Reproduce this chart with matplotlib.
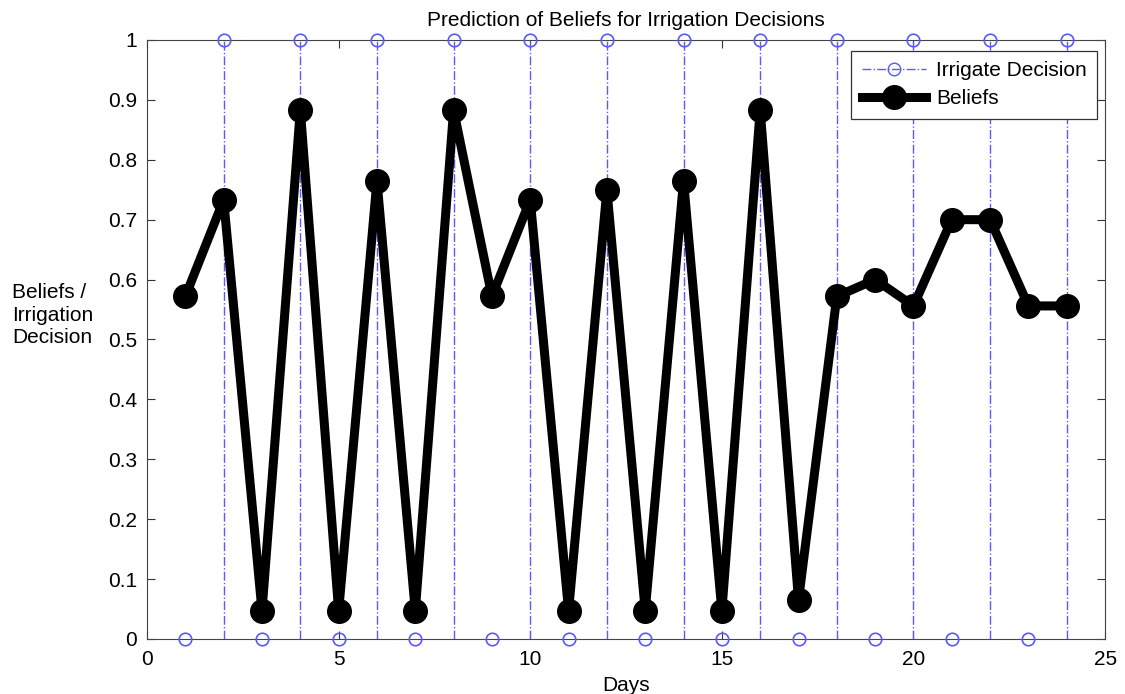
import numpy as np
import matplotlib
matplotlib.use('Agg')
import matplotlib.pyplot as plt
from matplotlib.lines import Line2D

matplotlib.rcParams['font.family'] = ['Liberation Sans', 'DejaVu Sans']

# data
days = np.arange(1, 25)
beliefs = [0.572, 0.733, 0.047, 0.883, 0.047, 0.765, 0.047, 0.883, 0.572, 0.733,
           0.047, 0.750, 0.047, 0.765, 0.047, 0.883, 0.065, 0.572, 0.600, 0.556,
           0.700, 0.700, 0.556, 0.556]
decision = [0, 1] * 12
xticks = [0, 5, 10, 15, 20, 25]
yticks = np.round(np.arange(0, 1.01, 0.1), 1)

BLUE = '#5a5aff'
FS = 15

fig = plt.figure(figsize=(11.25, 6.94), dpi=100)
ax = fig.add_axes([0.1307, 0.0793, 0.8516, 0.8631])

dec = np.asarray(decision)
ax.vlines(days[dec == 1], 0, 1, colors=BLUE, linestyles='-.', linewidth=1)
ax.plot(days, dec, linestyle='none', marker='o', markersize=9,
        markerfacecolor='none', markeredgecolor=BLUE, markeredgewidth=1.2,
        clip_on=False, zorder=5)
ax.plot(days, beliefs, color='black', linewidth=6.5, marker='o', markersize=17,
        markerfacecolor='black', zorder=4)

ax.set_xlim(0, 25)
ax.set_ylim(0, 1)
ax.set_xticks(xticks)
ax.set_yticks(yticks)
ax.set_yticklabels(['0'] + ['%g' % v for v in yticks[1:-1]] + ['1'])
ax.tick_params(direction='in', top=True, right=True, labelsize=FS, length=6,
               color='#333333', pad=7)
ax.tick_params(axis='x', pad=8)
for s in ax.spines.values():
    s.set_color('#444444')

ax.set_title('Prediction of Beliefs for Irrigation Decisions', fontsize=FS, pad=10)
ax.set_xlabel('Days', fontsize=FS, labelpad=5)
fig.text(0.0107, 0.546, 'Beliefs /\nIrrigation\nDecision', fontsize=FS,
         ha='left', va='center', linespacing=1.25)

handles = [Line2D([], [], color=BLUE, linestyle='-.', linewidth=1, marker='o',
                  markersize=9, markerfacecolor='none', markeredgecolor=BLUE),
           Line2D([], [], color='black', linewidth=6.5, marker='o', markersize=17)]
leg = ax.legend(handles, ['Irrigate Decision', 'Beliefs'], loc='upper right',
                bbox_to_anchor=(0.9916, 0.9816), borderaxespad=0,
                fontsize=FS, fancybox=False, edgecolor='#333333', framealpha=1,
                handlelength=3.1, labelspacing=0.42, borderpad=0.5,
                handletextpad=0.45)
leg.get_frame().set_linewidth(0.9)

plt.savefig('out.png', dpi=100)
